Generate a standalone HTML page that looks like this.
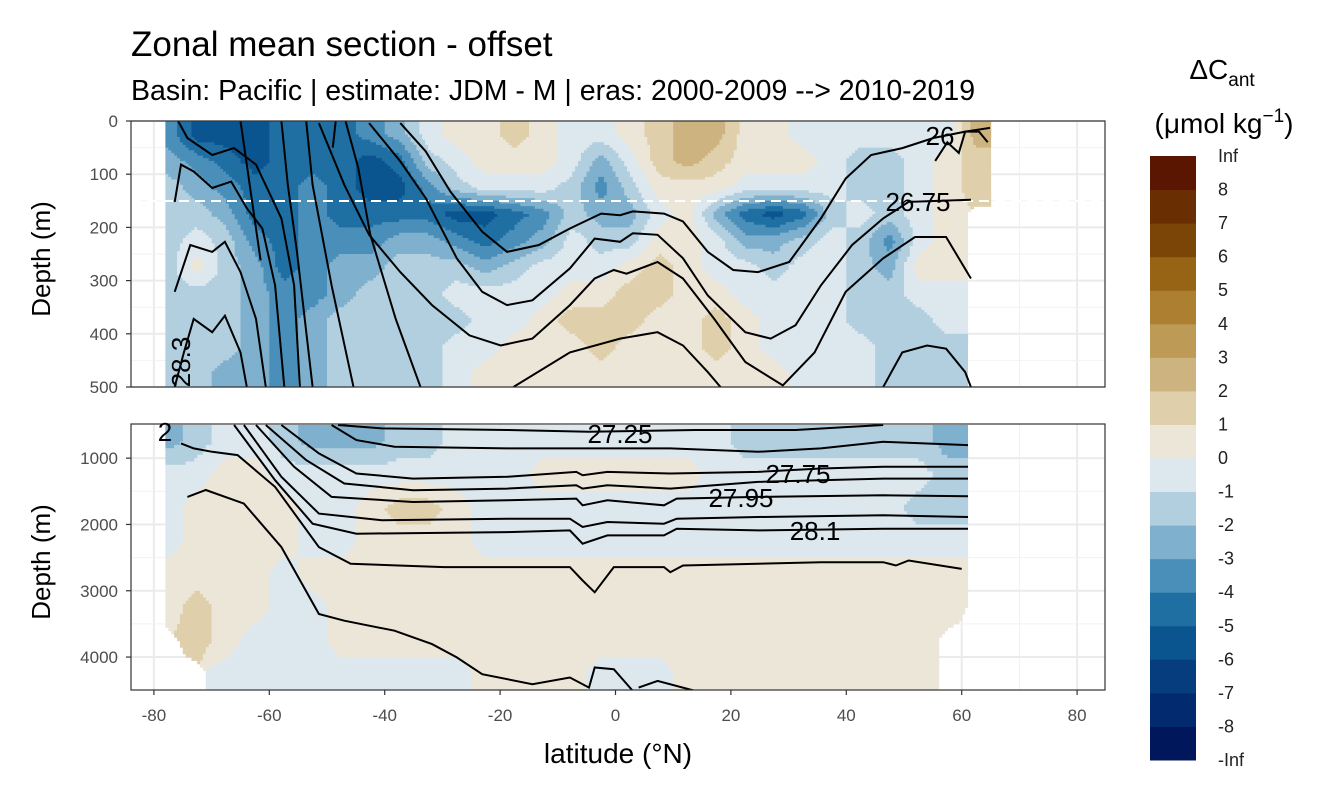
<!DOCTYPE html>
<html><head><meta charset="utf-8"><style>
html,body{margin:0;padding:0;background:#fff}
svg{display:block;font-family:"Liberation Sans",Arial,sans-serif}
</style></head><body>
<svg id="chart" width="1344" height="806" viewBox="0 0 1344 806">
<defs>
<clipPath id="clipTop"><rect x="131" y="121" width="974" height="266"/></clipPath>
<clipPath id="clipBot"><rect x="131" y="424" width="974" height="266"/></clipPath>
</defs>
<text x="131" y="56" font-size="35" fill="#000">Zonal mean section - offset</text>
<text x="131" y="100" font-size="28.5" fill="#000">Basin: Pacific | estimate: JDM - M | eras: 2000-2009 --&gt; 2010-2019</text>
<g id="gridTop"></g>
<g id="gridBot"></g>
<g id="fillTop" clip-path="url(#clipTop)"></g>
<g id="fillBot" clip-path="url(#clipBot)"></g>
<line x1="131" x2="1105" y1="201" y2="201" stroke="#fff" stroke-width="2" stroke-dasharray="10,6"/>
<g id="linesTop" clip-path="url(#clipTop)"></g>
<g id="linesBot" clip-path="url(#clipBot)"></g>
<rect x="131" y="121" width="974" height="266" fill="none" stroke="#333" stroke-width="1.2"/>
<rect x="131" y="424" width="974" height="266" fill="none" stroke="#333" stroke-width="1.2"/>
<g font-size="26" fill="#000">
<text x="940" y="145" text-anchor="middle">26</text>
<text x="918" y="211" text-anchor="middle">26.75</text>
<text transform="translate(190,362) rotate(-90)" text-anchor="middle">28.3</text>
<text x="620" y="443" text-anchor="middle">27.25</text>
<text x="798" y="483" text-anchor="middle">27.75</text>
<text x="741" y="507" text-anchor="middle">27.95</text>
<text x="815" y="540" text-anchor="middle">28.1</text>
<text x="165" y="441" text-anchor="middle">2</text>
</g>
<g id="axes" font-size="17" fill="#4d4d4d"></g>
<text transform="translate(50,259) rotate(-90)" text-anchor="middle" font-size="26">Depth (m)</text>
<text transform="translate(50,562) rotate(-90)" text-anchor="middle" font-size="26">Depth (m)</text>
<text x="618" y="763" text-anchor="middle" font-size="28">latitude (°N)</text>
<text x="1222" y="79" text-anchor="middle" font-size="28">ΔC<tspan font-size="19" dy="7">ant</tspan></text>
<text x="1224" y="133" text-anchor="middle" font-size="28">(μmol kg<tspan font-size="19" dy="-11">−1</tspan><tspan dy="11">)</tspan></text>
<g id="legend" font-size="18" fill="#222"></g>
</svg>
<script>
// ---- data ----
const lats = [-77.5,-72.5,-67.5,-62.5,-57.5,-52.5,-47.5,-42.5,-37.5,-32.5,-27.5,-22.5,-17.5,-12.5,-7.5,-2.5,2.5,7.5,12.5,17.5,22.5,27.5,32.5,37.5,42.5,47.5,52.5,57.5,62.5];
const depthsTop = [25,75,125,175,225,275,325,375,425,475];
const depthsBot = [750,1250,1750,2250,2750,3250,3750,4250];
const N = null;
const valuesTop = [
[-3.5,-5.5,-5.5,-5.5,-4.5,-4.5,-4.5,-3.5,-2.5,-0.5,0.5,0.5,1.5,0.5,-0.5,-0.5,0.5,1.5,2.5,2.5,0.5,0.5,-0.5,-0.5,-0.5,-0.5,-0.5,-0.5,2.5],
[-2.5,-3.5,-4.5,-5.5,-4.5,-4.5,-4.5,-5.5,-4.5,-1.5,-0.5,0.5,0.5,0.5,-0.5,-2.5,-0.5,1.5,2.5,1.5,0.5,0.5,0.5,-0.5,-1.5,-1.5,-0.5,0.5,1.5],
[-1.5,-2.5,-3.5,-4.5,-4.5,-3.5,-4.5,-5.5,-5.5,-3.5,-1.5,-0.5,-0.5,-0.5,-1.5,-3.5,-1.5,0.5,0.5,0.5,-0.5,-0.5,-0.5,-0.5,-1.5,-1.5,-0.5,0.5,1.5],
[-1.5,-1.5,-2.5,-4.5,-4.5,-3.5,-4.5,-4.5,-4.5,-4.5,-5.5,-5.5,-4.5,-3.5,-1.5,-2.5,-2.5,-0.5,0.5,-2.5,-4.5,-5.5,-4.5,-1.5,-0.5,-1.5,-0.5,0.5,N],
[-1.5,-0.5,-1.5,-3.5,-4.5,-3.5,-3.5,-3.5,-2.5,-2.5,-3.5,-4.5,-3.5,-2.5,-0.5,-1.5,-1.5,0.5,0.5,-0.5,-2.5,-2.5,-1.5,-0.5,-1.5,-3.5,-0.5,0.5,N],
[-1.5,0.5,-1.5,-2.5,-4.5,-3.5,-2.5,-2.5,-1.5,-1.5,-1.5,-2.5,-1.5,-0.5,-0.5,-0.5,0.5,1.5,0.5,-0.5,-0.5,-1.5,-0.5,-0.5,-1.5,-2.5,0.5,0.5,N],
[-1.5,-1.5,-1.5,-2.5,-3.5,-3.5,-2.5,-1.5,-1.5,-1.5,-0.5,-0.5,-0.5,-0.5,0.5,0.5,1.5,1.5,0.5,0.5,-0.5,-0.5,-0.5,-0.5,-1.5,-1.5,-0.5,-0.5,N],
[-1.5,-1.5,-1.5,-2.5,-3.5,-2.5,-1.5,-1.5,-1.5,-1.5,-1.5,-0.5,-0.5,0.5,1.5,1.5,1.5,0.5,0.5,1.5,0.5,-0.5,-0.5,-0.5,-1.5,-1.5,-1.5,-0.5,N],
[-1.5,-1.5,-1.5,-2.5,-3.5,-2.5,-1.5,-1.5,-1.5,-1.5,-0.5,-0.5,0.5,0.5,0.5,1.5,0.5,0.5,0.5,1.5,0.5,-0.5,-0.5,-0.5,-0.5,-1.5,-1.5,-1.5,N],
[-1.5,-1.5,-2.5,-2.5,-3.5,-2.5,-1.5,-1.5,-1.5,-1.5,-0.5,0.5,0.5,0.5,0.5,0.5,0.5,0.5,0.5,0.5,0.5,0.5,-0.5,-0.5,-0.5,-1.5,-1.5,-1.5,N]
];
const valuesBot = [
[-2.5,-1.5,-0.5,-0.5,-1.5,-2.5,-2.5,-2.5,-1.5,-1.5,-0.5,-0.5,-0.5,-0.5,-0.5,-0.5,-0.5,-0.5,-0.5,-0.5,-1.5,-1.5,-1.5,-1.5,-1.5,-1.5,-1.5,-2.5,N],
[-0.5,-0.5,0.5,0.5,-0.5,-0.5,-0.5,-0.5,-0.5,-0.5,-0.5,-0.5,-0.5,0.5,0.5,0.5,0.5,0.5,0.5,-0.5,-0.5,-0.5,-0.5,-0.5,-0.5,-0.5,-0.5,-1.5,N],
[-0.5,0.5,0.5,0.5,0.5,-0.5,-0.5,0.5,1.5,1.5,0.5,-0.5,-0.5,-0.5,-0.5,-0.5,-0.5,-0.5,-0.5,-0.5,-0.5,-0.5,-0.5,-0.5,-0.5,-0.5,-1.5,-1.5,N],
[-0.5,0.5,0.5,0.5,0.5,-0.5,-0.5,0.5,0.5,0.5,0.5,-0.5,-0.5,-0.5,-0.5,-0.5,-0.5,-0.5,-0.5,-0.5,-0.5,-0.5,-0.5,-0.5,-0.5,-0.5,-0.5,-0.5,N],
[0.5,0.5,0.5,0.5,-0.5,0.5,0.5,0.5,0.5,0.5,0.5,0.5,0.5,0.5,0.5,0.5,0.5,0.5,0.5,0.5,0.5,0.5,0.5,0.5,0.5,0.5,0.5,0.5,N],
[0.5,1.5,0.5,0.5,-0.5,-0.5,0.5,0.5,0.5,0.5,0.5,0.5,0.5,0.5,0.5,0.5,0.5,0.5,0.5,0.5,0.5,0.5,0.5,0.5,0.5,0.5,0.5,0.5,N],
[N,1.5,0.5,-0.5,-0.5,-0.5,0.5,0.5,0.5,0.5,0.5,0.5,0.5,0.5,0.5,0.5,0.5,0.5,0.5,0.5,0.5,0.5,0.5,0.5,0.5,0.5,0.5,N,N],
[N,N,-0.5,-0.5,-0.5,-0.5,-0.5,-0.5,-0.5,-0.5,-0.5,0.5,0.5,0.5,0.5,-0.5,-0.5,-0.5,0.5,0.5,0.5,0.5,0.5,0.5,0.5,0.5,0.5,N,N]
];
const legendLabels = ["Inf","8","7","6","5","4","3","2","1","0","-1","-2","-3","-4","-5","-6","-7","-8","-Inf"];
const binColors = ["#00175c","#022a6e","#053d7f","#0a548f","#1f6fa3","#4a8fb9","#7fb0cd","#b2cfdf","#dde8ee","#ece6d9","#dfcfab","#cdb380","#bd9a55","#ac8030","#966414","#7a4507","#6a2e03","#5a1600"];
const xTicks = [-80,-60,-40,-20,0,20,40,60,80];
const yTicksTop = [0,100,200,300,400,500];
const yTicksBot = [1000,2000,3000,4000];
// isopycnals: [lat, depth] pairs
const contoursTop = [
[[-37.3,4],[-32.9,57],[-28.6,133],[-23.1,208],[-18.8,246],[-13.3,233],[-7.9,202],[-2.5,174],[0.8,177],[3.0,170],[8.4,174],[11.7,189],[16.0,246],[20.4,280],[24.7,284],[30.1,265],[35.6,183],[39.9,108],[44.3,64],[49.7,51],[55.1,32],[60.6,20],[64.9,13]],
[[-42.7,4],[-37.3,76],[-32.9,145],[-27.5,258],[-23.1,321],[-18.8,346],[-14.4,337],[-7.9,277],[-3.6,221],[0.8,227],[3.0,211],[7.3,214],[11.7,258],[16.0,328],[22.5,397],[26.9,409],[31.2,384],[35.6,309],[41.0,233],[46.4,183],[50.8,152],[61.6,148]],
[[-51.4,4],[-47.0,120],[-42.7,214],[-37.3,284],[-31.8,346],[-25.3,403],[-19.9,422],[-14.4,409],[-7.9,346],[-3.6,296],[-0.3,280],[1.9,287],[7.3,265],[11.7,296],[17.1,372],[22.5,453],[29.0,497],[34.5,435],[39.9,321],[46.4,258],[51.9,218],[57.3,218],[61.6,296]],
[[-17.7,500],[-7.9,435],[0.8,409],[7.3,397],[11.7,422],[16.0,472],[18.2,500]],
[[46.4,500],[49.7,435],[54.0,422],[57.3,428],[60.6,472],[61.6,500]],
[[-76.4,152],[-75.3,82],[-73.1,95],[-69.9,126],[-66.6,114],[-63.9,164],[-61.2,202],[-59,309],[-57.4,500]],
[[-76.4,321],[-73.7,233],[-69.9,246],[-67.7,227],[-65,284],[-62.3,372],[-60.6,500]],
[[-76.4,500],[-74.8,435],[-73.1,372],[-69.9,397],[-67.7,366],[-65,435],[-63.9,500]],
[[-75.8,0],[-74.2,32],[-69.9,64],[-66.1,51],[-62.3,82],[-57.9,183],[-55.7,309],[-54.7,500]],
[[-57.9,0],[-56.8,120],[-55.2,246],[-52.5,500]],
[[-53.6,0],[-52.5,120],[-49.2,309],[-45.4,500]],
[[-46.8,0],[-44.6,88],[-42.5,214],[-38.1,372],[-33.8,500]],
[[-61.5,262],[-65.0,0]],
[[-49,50],[-48.5,0]],
[[55.4,75],[57.5,40],[59.5,60],[60.6,20],[63,20],[64.5,40]]
];
const contoursBot = [
[[-48.1,500],[-40.5,551],[-18.8,576],[-4.6,601],[13.8,576],[31.2,576],[41.0,525],[46.4,500]],
[[-49.2,500],[-44.9,727],[-38.3,828],[-18.8,853],[-4.6,853],[9.5,853],[24.7,904],[35.6,853],[46.4,753],[61.1,803]],
[[-57.9,500],[-51.4,929],[-44.9,1232],[-35.1,1308],[-18.8,1282],[-6.8,1207],[-5.7,1257],[-1.4,1207],[9.5,1232],[24.7,1207],[35.6,1156],[46.4,1131],[61.1,1131]],
[[-60.6,500],[-53.6,1030],[-47.0,1383],[-35.1,1484],[-18.8,1459],[-6.8,1408],[-5.7,1459],[-1.4,1408],[9.5,1459],[24.7,1358],[46.4,1308],[61.1,1308]],
[[-62.3,500],[-55.7,1131],[-49.2,1585],[-35.1,1661],[-18.8,1635],[-6.8,1610],[-5.7,1711],[-1.4,1635],[8.4,1711],[10.6,1610],[24.7,1585],[46.4,1560],[61.1,1575]],
[[-64.4,500],[-57.9,1282],[-51.4,1837],[-40.5,1938],[-18.8,1913],[-7.9,1913],[-5.7,2039],[-1.4,1963],[8.4,1989],[10.6,1913],[24.7,1888],[46.4,1862],[61.1,1888]],
[[-66.1,500],[-59.0,1333],[-52.5,1989],[-44.9,2140],[-18.8,2115],[-7.9,2089],[-5.7,2291],[-1.4,2165],[8.4,2165],[10.6,2064],[24.7,2089],[46.4,2064],[61.1,2064]],
[[-75.3,778],[-73.1,853],[-69.9,904],[-65.5,954],[-59.0,1434],[-51.4,2342],[-45.9,2594],[-29.7,2644],[-7.9,2644],[-5.7,2846],[-3.6,3023],[-0.3,2644],[8.4,2644],[9.5,2720],[11.7,2619],[35.6,2569],[46.4,2569],[48.6,2619],[50.8,2544],[60.0,2670]],
[[-74.2,1585],[-71,1480],[-64.4,1686],[-57.9,2342],[-51.4,3351],[-47.0,3452],[-38.3,3603],[-31.8,3805],[-27.5,4006],[-23.1,4259],[-14.4,4410],[-7.9,4309],[-4.6,4461],[-3.6,4158],[-0.3,4183],[3.0,4511]],
[[4.0,4461],[7.3,4360],[13.8,4511]]
];
// ---- scales ----
const x = lat => 615.5 + lat * 5.77;
const yTop = d => 121 + d * 0.532;
const yBot = d => 425 + (d - 500) * 0.0663;
const NS = "http://www.w3.org/2000/svg";
function mk(tag, attrs, parent) { const e = document.createElementNS(NS, tag); for (const k in attrs) e.setAttribute(k, attrs[k]); parent.appendChild(e); return e; }
function binOf(v) { let b = Math.floor(v) + 9; return Math.max(0, Math.min(17, b)); }
function sample(grid, depths, lat, d) {
  const fi = Math.max(0, Math.min(lats.length - 1.0001, (lat - lats[0]) / 5));
  let fj;
  if (d <= depths[0]) fj = 0; else if (d >= depths[depths.length - 1]) fj = depths.length - 1.0001;
  else { let j = 0; while (depths[j + 1] < d) j++; fj = j + (d - depths[j]) / (depths[j + 1] - depths[j]); }
  const i0 = Math.floor(fi), j0 = Math.floor(fj), ti = fi - i0, tj = fj - j0;
  let s = 0, w = 0;
  const c = [[i0, j0, (1 - ti) * (1 - tj)], [i0 + 1, j0, ti * (1 - tj)], [i0, j0 + 1, (1 - ti) * tj], [i0 + 1, j0 + 1, ti * tj]];
  for (const [i, j, ww] of c) { const v = grid[j] ? grid[j][i] : null; if (v !== null && v !== undefined) { s += v * ww; w += ww; } }
  if (w < 0.35) return null;
  return s / w;
}
function drawFill(g, grid, depths, d0, d1, dd, yf) {
  for (let d = d0; d < d1; d += dd) {
    let runStart = null, runBin = null;
    const flush = (endLat) => { if (runStart !== null && runBin !== null) {
      const r = mk('rect', { x: x(runStart).toFixed(1), y: yf(d).toFixed(1), width: (x(endLat) - x(runStart) + 0.6).toFixed(1), height: (yf(d + dd) - yf(d) + 0.6).toFixed(1), fill: binColors[runBin] }, g);
      
      
    } };
    for (let lat = -78; lat < 65; lat += 0.5) {
      const v = sample(grid, depths, lat + 0.25, d + dd / 2);
      const b = v === null ? null : binOf(v);
      if (b !== runBin) { flush(lat); runStart = lat; runBin = b; }
    }
    flush(65);
  }
}
drawFill(document.getElementById('fillTop'), valuesTop, depthsTop, 0, 500, 5, yTop);
drawFill(document.getElementById('fillBot'), valuesBot, depthsBot, 500, 4500, 50, yBot);
function drawLines(g, list, yf) {
  for (const line of list) {
    const p = mk('polyline', { points: line.map(([la, d]) => x(la).toFixed(1) + ',' + yf(d).toFixed(1)).join(' '), fill: 'none', stroke: '#000', 'stroke-width': 2 }, g);
    
    
  }
}
drawLines(document.getElementById('linesTop'), contoursTop, yTop);
drawLines(document.getElementById('linesBot'), contoursBot, yBot);
// grids
const gT = document.getElementById('gridTop'), gB = document.getElementById('gridBot');
mk('rect', { x: 131, y: 121, width: 974, height: 266, fill: '#fff' }, gT);
mk('rect', { x: 131, y: 424, width: 974, height: 266, fill: '#fff' }, gB);
for (let i = 0; i < xTicks.length; i++) {
  for (const [g, y0, y1] of [[gT, 121, 387], [gB, 424, 690]]) {
    mk('line', { x1: x(xTicks[i]), x2: x(xTicks[i]), y1: y0, y2: y1, stroke: '#ebebeb', 'stroke-width': 2 }, g);
    if (i < xTicks.length - 1) { const m = (xTicks[i] + xTicks[i + 1]) / 2; mk('line', { x1: x(m), x2: x(m), y1: y0, y2: y1, stroke: '#f2f2f2', 'stroke-width': 1 }, g); }
  }
}
for (const d of yTicksTop) { mk('line', { x1: 131, x2: 1105, y1: yTop(d), y2: yTop(d), stroke: '#ebebeb', 'stroke-width': 2 }, gT); if (d < 500) mk('line', { x1: 131, x2: 1105, y1: yTop(d + 50), y2: yTop(d + 50), stroke: '#f2f2f2' }, gT); }
for (const d of yTicksBot) { mk('line', { x1: 131, x2: 1105, y1: yBot(d), y2: yBot(d), stroke: '#ebebeb', 'stroke-width': 2 }, gB); mk('line', { x1: 131, x2: 1105, y1: yBot(d + 500), y2: yBot(d + 500), stroke: '#f2f2f2' }, gB); }
// axes
const ax = document.getElementById('axes');
for (const t of xTicks) {
  mk('line', { x1: x(t), x2: x(t), y1: 690, y2: 695, stroke: '#333', 'stroke-width': 1.2 }, ax);
  const tx = mk('text', { x: x(t), y: 721, 'text-anchor': 'middle' }, ax); tx.textContent = t;
  
  
}
for (const d of yTicksTop) {
  mk('line', { x1: 126, x2: 131, y1: yTop(d), y2: yTop(d), stroke: '#333', 'stroke-width': 1.2 }, ax);
  const tx = mk('text', { x: 118, y: yTop(d) + 6, 'text-anchor': 'end' }, ax); tx.textContent = d;
  
  
}
for (const d of yTicksBot) {
  mk('line', { x1: 126, x2: 131, y1: yBot(d), y2: yBot(d), stroke: '#333', 'stroke-width': 1.2 }, ax);
  const tx = mk('text', { x: 118, y: yBot(d) + 6, 'text-anchor': 'end' }, ax); tx.textContent = d;
  
  
}
// legend
const lg = document.getElementById('legend');
const binH = (760 - 156) / binColors.length;
for (let k = 0; k < binColors.length; k++) {
  const r = mk('rect', { x: 1150, y: (760 - (k + 1) * binH).toFixed(2), width: 46, height: (binH + 0.5).toFixed(2), fill: binColors[k] }, lg);
  
  
}
for (let k = 0; k < legendLabels.length; k++) {
  const t = mk('text', { x: 1218, y: (156 + k * binH + 6).toFixed(1) }, lg); t.textContent = legendLabels[k];
  
  
}
</script>
</body></html>
